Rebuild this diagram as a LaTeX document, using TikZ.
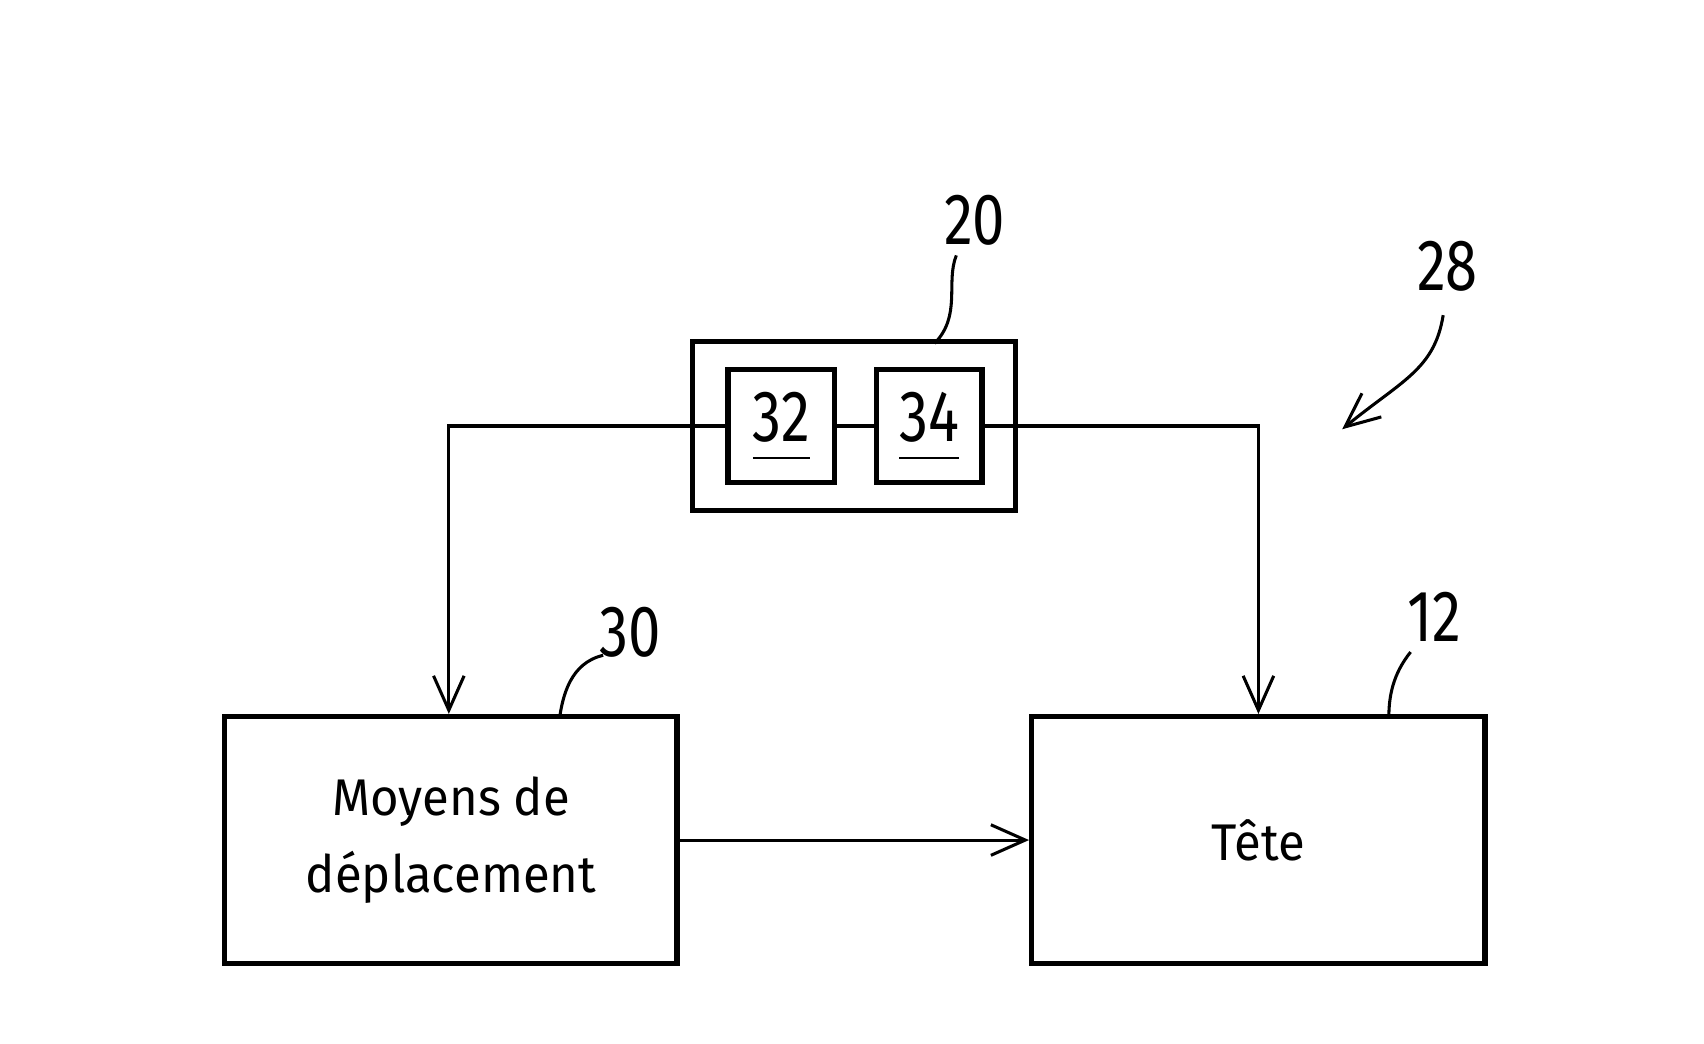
\documentclass[tikz,border=0pt]{standalone}
\usepackage{fontspec}
\setmainfont{Fira Sans}
\usetikzlibrary{arrows.meta}
\begin{document}
\begin{tikzpicture}[x=0.01cm,y=-0.01cm]
	\tikzset{>={Straight Barb[length=9pt,width=8pt]},
	  bloc/.style={draw,line width=1.4pt,inner sep=0pt},
	  fil/.style={line width=0.8pt},
	  repere/.style={font=\fontsize{19}{19}\selectfont\addfontfeatures{FakeStretch=0.8}}}
  \useasboundingbox (0,0) rectangle (1568,960);

  \node[bloc,minimum width=4.16cm,minimum height=2.27cm,align=center,font=\fontsize{13.5}{20}\selectfont\addfontfeatures{FakeStretch=0.95}] (moyens) at (415,773) {Moyens de\\déplacement};
  \node[bloc,minimum width=4.17cm,minimum height=2.27cm,font=\fontsize{13.5}{20}\selectfont\addfontfeatures{FakeStretch=0.95}] (tete) at (1158,773) {Tête};
  \node[bloc,minimum width=2.97cm,minimum height=1.55cm] (unite) at (786,392) {};
  \node[bloc,minimum width=0.98cm,minimum height=1.04cm] (c32) at (719,392) {};
  \node[bloc,minimum width=0.97cm,minimum height=1.04cm] (c34) at (855,392) {};
  \node[repere] at (719,392) {\underline{\raisebox{3pt}{32}}};
  \node[repere] at (855,392) {\underline{\raisebox{3pt}{34}}};

  \draw[fil,->] (c32.west) -- (413,392) -- (413,0 |- moyens.north);
  \draw[fil] (c32) -- (c34);
  \draw[fil,->] (c34.east) -- (1158,392) -- (tete.north);
  \draw[fil,->] (moyens.east) -- (tete.west);

  \node[repere] (n20) at (897,203) {20};
  \node[repere] (n28) at (1332,245) {28};
  \node[repere] (n30) at (580,582) {30};
  \node[repere] (n12) at (1320,568) {12};
  \draw[fil] (880,235) .. controls (870,260) and (885,290) .. (860,316);
  \draw[fil,->] (1328,290) .. controls (1320,340) and (1290,350) .. (1235,395);
  \draw[fil] (555,603) .. controls (525,610) and (518,640) .. (515,660);
  \draw[fil] (1298,600) .. controls (1282,620) and (1278,640) .. (1278,660);

\end{tikzpicture}
\end{document}
